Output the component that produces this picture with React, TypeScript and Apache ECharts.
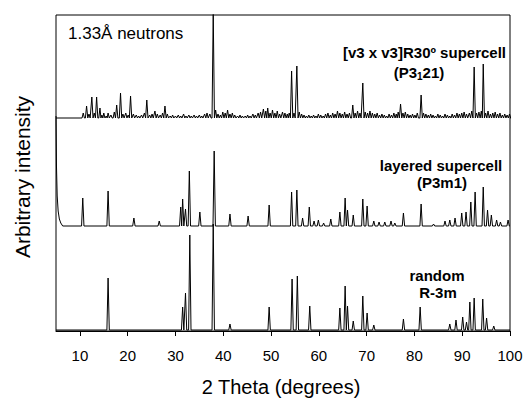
import React, { useEffect, useRef } from "react";
import * as echarts from "echarts";

// ---- data (peak positions in degrees 2θ, heights in plot units above each pattern's baseline) ----
const xTicks = [10, 20, 30, 40, 50, 60, 70, 80, 90, 100];

const topPos = [10.7, 11.4, 11.9, 12.5, 13.0, 13.5, 14.2, 14.6, 15.0, 15.5, 15.9, 16.5, 17.2, 17.7, 18.5, 19.0, 19.6, 20.1, 20.6, 21.2, 21.8, 22.3, 22.9, 23.5, 24.0, 24.6, 25.1, 25.7, 26.2, 26.8, 27.3, 27.8, 28.3, 28.9, 29.4, 30.0, 30.6, 31.1, 31.7, 32.2, 32.8, 33.3, 33.9, 34.4, 35.0, 35.5, 36.1, 36.6, 37.2, 37.9, 38.4, 38.9, 39.4, 39.9, 40.4, 40.9, 41.4, 41.9, 42.4, 43.0, 43.5, 44.0, 44.6, 45.1, 45.6, 46.2, 46.7, 47.3, 47.8, 48.4, 48.9, 49.3, 49.8, 50.3, 50.8, 51.3, 51.8, 52.4, 52.9, 53.4, 53.8, 54.3, 54.8, 55.4, 55.9, 56.4, 56.9, 57.4, 57.9, 58.4, 58.9, 59.4, 59.9, 60.4, 60.9, 61.4, 61.9, 62.4, 62.9, 63.4, 63.9, 64.4, 64.9, 65.4, 65.9, 66.4, 67.1, 67.6, 68.1, 68.6, 69.2, 69.7, 70.2, 70.7, 71.2, 71.7, 72.2, 72.7, 73.2, 73.7, 74.2, 74.7, 75.2, 75.7, 76.2, 76.6, 77.1, 77.6, 78.1, 78.6, 79.1, 79.6, 80.1, 80.6, 81.4, 81.9, 82.4, 82.9, 83.4, 83.9, 84.4, 84.9, 85.4, 85.9, 86.4, 86.9, 87.4, 87.9, 88.4, 88.9, 89.4, 89.9, 90.4, 90.9, 91.5, 92.0, 92.5, 93.0, 93.5, 94.0, 94.4, 94.9, 95.4, 95.9, 96.4, 96.9, 97.4, 97.9, 98.4, 98.9, 99.4, 99.9];
const topHt = [5, 12, 4, 21, 5, 21, 10, 3, 5, 2, 5, 3, 6, 13, 25, 4, 5, 3, 22, 4, 3, 2, 3, 5, 18, 3, 4, 7, 4, 3, 5, 12, 4, 2, 3, 2, 3, 2, 4, 2, 3, 2, 3, 2, 3, 2, 4, 5, 4, 106, 8, 4, 3, 6, 5, 8, 4, 5, 3, 2, 3, 2, 2, 3, 2, 4, 3, 5, 6, 9, 7, 10, 5, 8, 5, 7, 4, 6, 5, 4, 5, 47, 5, 52, 6, 4, 3, 2, 3, 2, 3, 2, 4, 3, 2, 4, 5, 3, 5, 4, 7, 5, 4, 6, 4, 5, 13, 5, 7, 5, 35, 6, 5, 7, 5, 4, 5, 3, 4, 3, 2, 4, 3, 5, 4, 6, 14, 5, 6, 4, 3, 4, 3, 5, 23, 5, 4, 3, 4, 3, 2, 4, 3, 2, 4, 3, 2, 4, 3, 5, 4, 5, 6, 4, 5, 7, 51, 5, 6, 7, 54, 5, 7, 4, 5, 6, 4, 5, 3, 4, 3, 4];

const midTailPos = [5.0, 5.1, 5.25, 5.45, 5.7, 6.0, 6.4];
const midTailHt = [110, 60, 30, 15, 7, 3, 0];
const midPos = [10.6, 15.9, 21.3, 26.6, 31.1, 31.5, 32.1, 32.9, 35.1, 38.1, 41.4, 45.2, 49.6, 54.3, 55.4, 56.6, 58.0, 59.0, 59.9, 61.0, 62.5, 64.4, 65.5, 66.0, 67.2, 69.2, 70.1, 71.5, 72.6, 73.8, 75.1, 75.9, 77.7, 81.4, 84.0, 86.4, 87.4, 88.5, 89.9, 90.8, 91.8, 92.7, 94.4, 95.3, 96.1, 97.2, 98.0, 99.6];
const midHt = [28, 35, 8, 5, 19, 27, 17, 55, 14, 75, 12, 10, 21, 34, 36, 8, 19, 5, 6, 3, 7, 14, 28, 16, 11, 27, 20, 5, 4, 4, 5, 3, 13, 22, 2, 5, 6, 8, 13, 14, 24, 34, 39, 16, 11, 6, 4, 6];

const botPos = [15.9, 31.5, 32.1, 33.0, 37.9, 41.4, 49.6, 54.4, 55.5, 58.1, 64.4, 65.5, 66.0, 67.2, 69.2, 70.1, 71.5, 77.7, 81.2, 87.4, 88.7, 90.1, 90.9, 91.6, 92.5, 94.3, 95.1, 96.6];
const botHt = [52, 23, 37, 95, 106, 6, 23, 51, 54, 24, 22, 44, 24, 9, 34, 17, 5, 11, 23, 6, 10, 13, 8, 28, 32, 31, 12, 4];

// ---- layout constants ----
const TOP_BASE = 213;
const MID_BASE = 105;
const BOT_BASE = 1;
const HALF_W = 0.25;
const FONT = "'Liberation Sans', Arial, Helvetica, sans-serif";

function profile(pos: number[], ht: number[], base: number, lead?: [number[], number[]]) {
  const pts: [number, number][] = [];
  if (lead) {
    lead[0].forEach((x, i) => pts.push([x, base + lead[1][i]]));
  } else {
    pts.push([5, base]);
  }
  for (let i = 0; i < pos.length; i++) {
    const x = pos[i];
    const left = i > 0 ? Math.max(x - HALF_W, (pos[i - 1] + x) / 2) : x - HALF_W;
    const right = i < pos.length - 1 ? Math.min(x + HALF_W, (pos[i + 1] + x) / 2) : x + HALF_W;
    pts.push([left, base]);
    pts.push([x, base + ht[i]]);
    pts.push([right, base]);
  }
  pts.push([100, base]);
  return pts;
}

export default function App() {
  const ref = useRef<HTMLDivElement>(null);
  useEffect(() => {
    if (!ref.current) return;
    const chart = echarts.init(ref.current, undefined, { renderer: "svg" });
    const lineStyle = { color: "#000", width: 1 };
    const txt = (text: string, x: number, y: number, opts: any = {}) => ({
      type: "text",
      x,
      y,
      rotation: opts.rotation || 0,
      style: {
        text,
        fill: "#000",
        fontFamily: FONT,
        fontSize: opts.fontSize || 15,
        fontWeight: opts.bold ? "bold" : "normal",
        align: opts.align || "center",
        verticalAlign: "middle",
        rich: opts.rich,
      },
    });
    chart.setOption({
      animation: false,
      grid: { left: 56, right: 16, top: 15, bottom: 69, show: true, borderColor: "#000", borderWidth: 1 },
      xAxis: {
        type: "value",
        min: 5,
        max: 100,
        axisLine: { show: true, lineStyle: { color: "#000", width: 1 } },
        axisTick: { show: true, length: 5, customValues: xTicks, lineStyle: { color: "#000" } },
        axisLabel: { customValues: xTicks, color: "#000", fontSize: 15, fontFamily: FONT, margin: 17 },
        splitLine: { show: false },
      },
      yAxis: { type: "value", min: 0, max: 316, show: false },
      series: [
        { type: "line", data: profile(topPos, topHt, TOP_BASE), symbol: "none", lineStyle, clip: true },
        { type: "line", data: profile(midPos, midHt, MID_BASE, [midTailPos, midTailHt]), symbol: "none", lineStyle, clip: true },
        { type: "line", data: profile(botPos, botHt, BOT_BASE), symbol: "none", lineStyle, clip: true },
      ],
      graphic: [
        txt("1.33Å neutrons", 68, 33, { align: "left", fontSize: 17 }),
        txt("[v3 x v3]R30º supercell", 506, 52, { align: "right", bold: true }),
        txt("{a|(P3}{s|1}{a|21)}", 419, 72, {
          rich: {
            a: { fontSize: 15, fontWeight: "bold", fontFamily: FONT, fill: "#000", lineHeight: 18 },
            s: { fontSize: 10, fontWeight: "bold", fontFamily: FONT, fill: "#000", verticalAlign: "bottom", lineHeight: 12 },
          },
        }),
        txt("layered supercell", 441, 165, { bold: true }),
        txt("(P3m1)", 442, 182, { bold: true }),
        txt("random", 437, 275, { bold: true }),
        txt("R-3m", 438, 292, { bold: true }),
        txt("Arbitrary intensity", 22, 177, { fontSize: 21, rotation: Math.PI / 2 }),
        txt("2 Theta (degrees)", 281, 387, { fontSize: 20 }),
      ],
    });
    return () => chart.dispose();
  }, []);
  return <div ref={ref} style={{ width: 526, height: 400, position: "absolute", left: 0, top: 0 }} />;
}
